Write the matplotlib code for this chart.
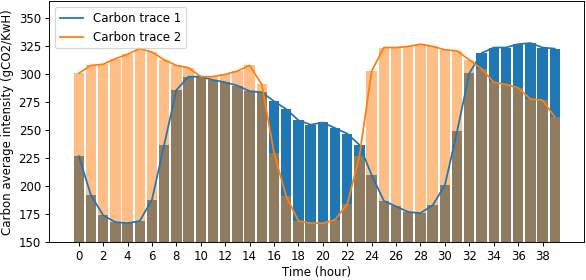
import matplotlib.pyplot as plt
import numpy as np

# hourly carbon intensity of the two traces (gCO2/KwH)
hours = list(range(40))
trace1 = [227, 192, 174, 168, 167, 169, 188, 237, 286, 298,
          298, 295, 293, 290, 285, 284, 276, 269, 259, 255,
          257, 252, 247, 237, 210, 187, 182, 177, 176, 183,
          201, 249, 301, 319, 324, 324, 327, 328, 324, 323]
trace2 = [301, 308, 309, 314, 318, 323, 320, 313, 308, 306,
          298, 298, 300, 303, 308, 291, 230, 191, 169, 167,
          167, 170, 184, 227, 303, 324, 324, 325, 327, 325,
          322, 321, 313, 305, 293, 291, 288, 278, 277, 262]
labels = ['Carbon trace 1', 'Carbon trace 2']

DPI = 85
fig, ax = plt.subplots(figsize=(586 / DPI, 280 / DPI), dpi=DPI)

# bars first, orange half transparent on top of the blue ones
ax.bar(hours, trace1, width=0.85, color='tab:blue')
ax.bar(hours, trace2, width=0.85, color='tab:orange', alpha=0.5)

# the same values as lines
ax.plot(hours, trace1, color='tab:blue', label=labels[0])
ax.plot(hours, trace2, color='tab:orange', label=labels[1])

ax.set_ylim(150, 365.5)
ax.set_xticks(np.arange(0, 40, 2))
ax.set_xlabel('Time (hour)', labelpad=2.5)
ax.set_ylabel('Carbon average intensity (gCO2/KwH)')
ax.legend(loc='upper left')

fig.subplots_adjust(left=0.084, right=0.997, bottom=0.135, top=0.996)
fig.savefig('out.png', dpi=DPI)
